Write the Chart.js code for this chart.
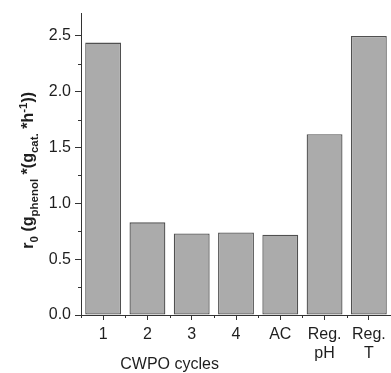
<!DOCTYPE html>
<html>
<head>
<meta charset="utf-8">
<script src="https://cdn.jsdelivr.net/npm/chart.js@4/dist/chart.umd.min.js"></script>
<style>
  html, body { margin: 0; padding: 0; background: #fff; }
  canvas { display: block; }
</style>
</head>
<body>
<canvas id="rateChart" width="391" height="373"></canvas>
<script>
const categories = ['1', '2', '3', '4', 'AC', ['Reg.', 'pH'], ['Reg.', 'T']];
const rateValues = [2.44, 0.83, 0.73, 0.74, 0.72, 1.62, 2.50];
const yMinorTicks = [0.25, 0.75, 1.25, 1.75, 2.25];
const xTitle = 'CWPO cycles';
// y title pieces: [text, kind] where kind is 'n' normal, 'b' subscript, 'p' superscript
const yTitleParts = [
  ['r', 'n'], ['0', 'b'], [' (g', 'n'], ['phenol', 'b'], [' *(g', 'n'],
  ['cat.', 'b'], [' *h', 'n'], ['-1', 'p'], ['))', 'n']
];

const FONT = "'Liberation Sans', Arial, sans-serif";
const AXIS = '#333333';
const TEXT = '#1e1e1e';

// minor ticks, axis titles with sub/superscripts
const extrasPlugin = {
  id: 'extras',
  afterDraw(chart) {
    const ctx = chart.ctx;
    const x = chart.scales.x;
    const y = chart.scales.y;
    ctx.save();
    ctx.strokeStyle = AXIS;
    ctx.lineWidth = 1;
    ctx.beginPath();
    yMinorTicks.forEach(v => {
      const py = Math.round(y.getPixelForValue(v)) + 0.5;
      ctx.moveTo(x.left - 3, py);
      ctx.lineTo(x.left, py);
    });
    for (let i = 0; i <= categories.length; i++) {
      const px = Math.round(x.getPixelForValue(i - 0.5)) + 0.5;
      ctx.moveTo(px, x.top);
      ctx.lineTo(px, x.top + 3);
    }
    ctx.stroke();

    // x title under cycles 1-4
    ctx.fillStyle = TEXT;
    ctx.font = '16px ' + FONT;
    ctx.textAlign = 'center';
    ctx.textBaseline = 'alphabetic';
    ctx.fillText(xTitle, x.getPixelForValue(1.5), 369);

    // rotated y title
    const fonts = {
      n: 'bold 16px ' + FONT,
      b: 'bold 11.5px ' + FONT,
      p: 'bold 11.5px ' + FONT
    };
    const shift = { n: 0, b: 5, p: -6 };
    let total = 0;
    yTitleParts.forEach(([t, k]) => {
      ctx.font = fonts[k];
      total += ctx.measureText(t).width;
    });
    const cy = (y.top + y.bottom) / 2 + 6;
    ctx.translate(33, cy);
    ctx.rotate(-Math.PI / 2);
    ctx.textAlign = 'left';
    let cx = -total / 2;
    yTitleParts.forEach(([t, k]) => {
      ctx.font = fonts[k];
      ctx.fillText(t, cx, shift[k]);
      cx += ctx.measureText(t).width;
    });
    ctx.restore();
  }
};

new Chart(document.getElementById('rateChart'), {
  type: 'bar',
  data: {
    labels: categories,
    datasets: [{
      data: rateValues,
      backgroundColor: '#ababab',
      borderColor: '#505050',
      borderWidth: 1.3,
      borderSkipped: false,
      categoryPercentage: 1.0,
      barPercentage: 0.81
    }]
  },
  options: {
    responsive: false,
    animation: false,
    devicePixelRatio: 1,
    layout: { padding: { top: 13, right: 0, left: 0, bottom: 0 } },
    plugins: {
      legend: { display: false },
      tooltip: { enabled: false }
    },
    scales: {
      x: {
        grid: {
          offset: false,
          drawOnChartArea: false,
          tickLength: 5,
          color: AXIS
        },
        border: { color: AXIS, width: 1 },
        ticks: {
          color: TEXT,
          font: { family: FONT, size: 16, lineHeight: 1.2 },
          padding: 5,
          maxRotation: 0,
          autoSkip: false
        },
        afterFit: s => { s.height = 58; }
      },
      y: {
        min: 0,
        max: 2.7,
        grid: {
          drawOnChartArea: false,
          tickLength: 6,
          color: AXIS
        },
        border: { color: AXIS, width: 1 },
        ticks: {
          stepSize: 0.5,
          includeBounds: false,
          color: TEXT,
          font: { family: FONT, size: 16 },
          padding: 4,
          callback: v => v.toFixed(1)
        },
        afterFit: s => { s.width = 81; }
      }
    }
  },
  plugins: [extrasPlugin]
});
</script>
</body>
</html>
